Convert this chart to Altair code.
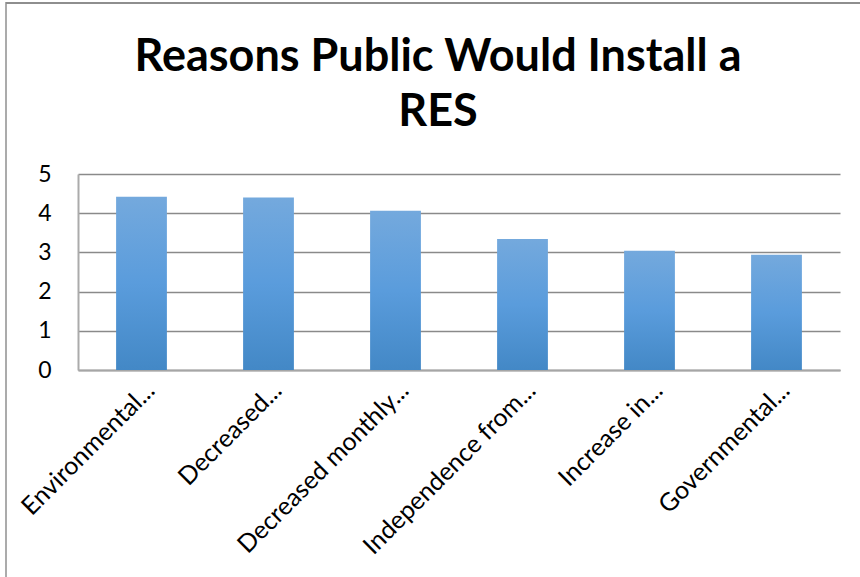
import altair as alt
import pandas as pd

categories = ["Environmental...", "Decreased...", "Decreased monthly...",
              "Independence from...", "Increase in...", "Governmental..."]
values = [4.42, 4.40, 4.06, 3.34, 3.04, 2.94]
y_ticks = [0, 1, 2, 3, 4, 5]
title_lines = ["Reasons Public Would Install a", "RES"]

df = pd.DataFrame({"reason": categories, "score": values})
one = pd.DataFrame({"k": [0]})

grad = alt.Gradient(
    gradient="linear",
    stops=[alt.GradientStop(color="#74A9DD", offset=0),
           alt.GradientStop(color="#5A9CDC", offset=0.5),
           alt.GradientStop(color="#4388C6", offset=1)],
    x1=0, x2=0, y1=0, y2=1,
)

bars = alt.Chart(df).mark_bar(color=grad).encode(
    x=alt.X("reason:N", sort=categories,
            scale=alt.Scale(paddingInner=0.6, paddingOuter=0.3),
            axis=alt.Axis(title=None, labelAngle=-45, labelAlign="right",
                          labelBaseline="middle", labelFont="Lato",
                          labelFontSize=25, labelColor="#000000",
                          labelPadding=16, labelOffset=9, ticks=False,
                          domainColor="#A6A6A6", domainWidth=2,
                          labelLimit=400)),
    y=alt.Y("score:Q", scale=alt.Scale(domain=[0, 5]),
            axis=alt.Axis(title=None, values=y_ticks, labelFont="Lato",
                          labelFontSize=23, labelColor="#000000",
                          labelPadding=27, ticks=False, format="d",
                          domainColor="#ABABAB", domainWidth=2,
                          gridColor="#8A8A8A", gridWidth=1.4)),
)

border_left = alt.Chart(one).mark_rule(color="#ABABAB", strokeWidth=2).encode(
    x=alt.value(-72), y=alt.value(-172), y2=alt.value(500))
border_top = alt.Chart(one).mark_rule(color="#8E8E8E", strokeWidth=2).encode(
    x=alt.value(-72), x2=alt.value(900), y=alt.value(-171))

chart = alt.layer(border_left, border_top, bars).properties(
    width=762, height=196,
    padding={"left": 78, "top": 174, "right": 20, "bottom": 207},
    autosize=alt.AutoSizeParams(type="none"),
    background="white",
    title=alt.TitleParams(text=title_lines, font="Lato", fontSize=45,
                          fontWeight="bold", color="#000000", anchor="middle",
                          frame="group", dx=-21, offset=-134, lineHeight=55),
).configure_view(strokeWidth=0)

chart.save("out.html", embed_options={"renderer": "svg", "actions": False})
